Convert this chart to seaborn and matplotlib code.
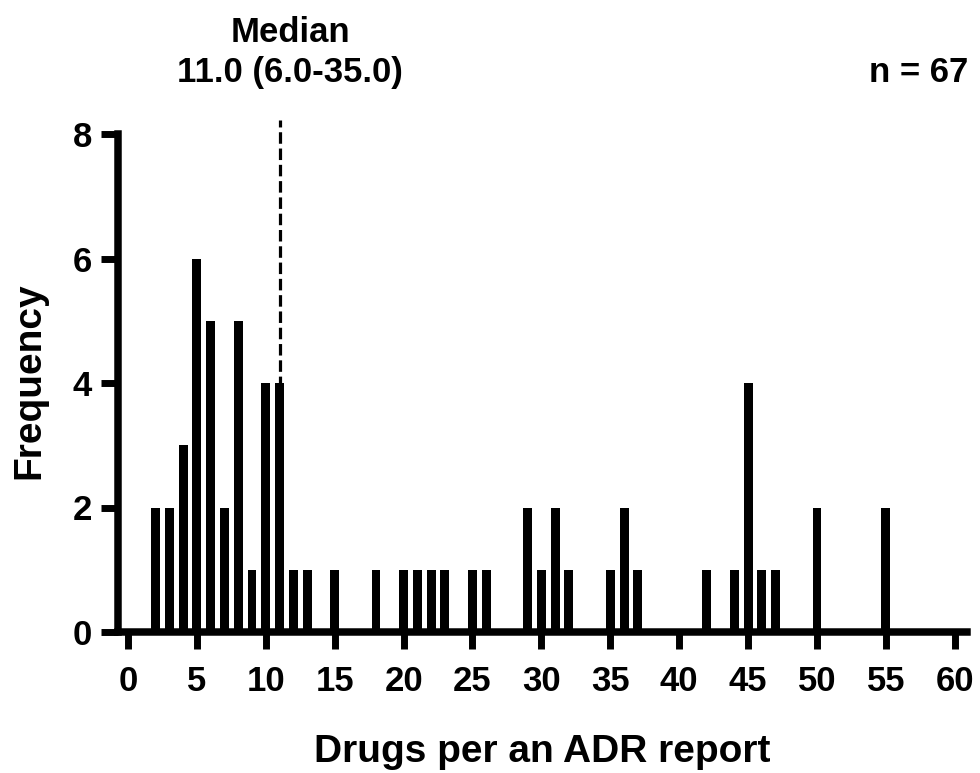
import matplotlib
matplotlib.use("Agg")
import matplotlib.pyplot as plt
import seaborn as sns
import pandas as pd

# Number of drugs listed per ADR report and how many reports had that count
drug_counts = [2, 3, 4, 5, 6, 7, 8, 9, 10, 11, 12, 13,
               15, 18, 20, 21, 22, 23, 25, 26,
               29, 30, 31, 32, 35, 36, 37,
               42, 44, 45, 46, 47, 50, 55]
frequency = [2, 2, 3, 6, 5, 2, 5, 1, 4, 4, 1, 1,
             1, 1, 1, 1, 1, 1, 1, 1,
             2, 1, 2, 1, 1, 2, 1,
             1, 1, 4, 1, 1, 2, 2]
x_ticks = list(range(0, 61, 5))
y_ticks = [0, 2, 4, 6, 8]
median_value = 11.0
iqr_low, iqr_high = 6.0, 35.0
n_reports = 67

sns.set_style("ticks")
plt.rcParams["font.family"] = ["Liberation Sans", "DejaVu Sans"]
plt.rcParams["font.weight"] = "bold"
plt.rcParams["text.color"] = "black"
plt.rcParams["axes.labelcolor"] = "black"

df = pd.DataFrame({"drugs": drug_counts, "freq": frequency})

fig = plt.figure(figsize=(9.8, 7.73), dpi=100)
ax = fig.add_axes([117.5 / 980, 1 - 632 / 773, 849.7 / 980, 498 / 773])

sns.barplot(data=df, x="drugs", y="freq", native_scale=True, width=0.65,
            color="black", saturation=1, edgecolor="none", linewidth=0, ax=ax)

ax.set_xlim(-0.76, 60.9)
ax.set_ylim(0, 8)
ax.set_xticks(x_ticks)
ax.set_xticklabels([str(t) for t in x_ticks])
ax.set_yticks(y_ticks)
ax.set_yticklabels([str(t) for t in y_ticks])

for side in ("top", "right"):
    ax.spines[side].set_visible(False)
for side in ("left", "bottom"):
    ax.spines[side].set_linewidth(5.4)
    ax.spines[side].set_color("black")
    ax.spines[side].set_capstyle("projecting")

ax.tick_params(axis="both", length=12.5, width=5.0, color="black",
               labelsize=25, labelcolor="black")
ax.tick_params(axis="x", pad=11)
ax.tick_params(axis="y", pad=6)
for lab in ax.get_xticklabels() + ax.get_yticklabels():
    lab.set_fontweight("bold")

# median marker
ax.plot([median_value, median_value], [0, 8.22], color="black", lw=2.3,
        linestyle=(0, (3.6, 1.5)), clip_on=False, zorder=3)

ax.set_xlabel("Drugs per an ADR report", fontsize=28, fontweight="bold")
ax.xaxis.label.set_va("baseline")
ax.xaxis.set_label_coords(0.5, -0.261)
ax.set_ylabel("Frequency", fontsize=28, fontweight="bold")
ax.yaxis.label.set_va("center")
ax.yaxis.set_label_coords(-0.104, 0.504)

fig.text(290 / 980, 1 - 42 / 773, "Median", ha="center", va="baseline",
         fontsize=25, fontweight="bold")
fig.text(290 / 980, 1 - 82 / 773, f"{median_value:.1f} ({iqr_low:.1f}-{iqr_high:.1f})",
         ha="center", va="baseline", fontsize=25, fontweight="bold")
fig.text(968 / 980, 1 - 82 / 773, f"n = {n_reports}", ha="right", va="baseline",
         fontsize=25, fontweight="bold")

fig.savefig("out.png", dpi=100, facecolor="white")
